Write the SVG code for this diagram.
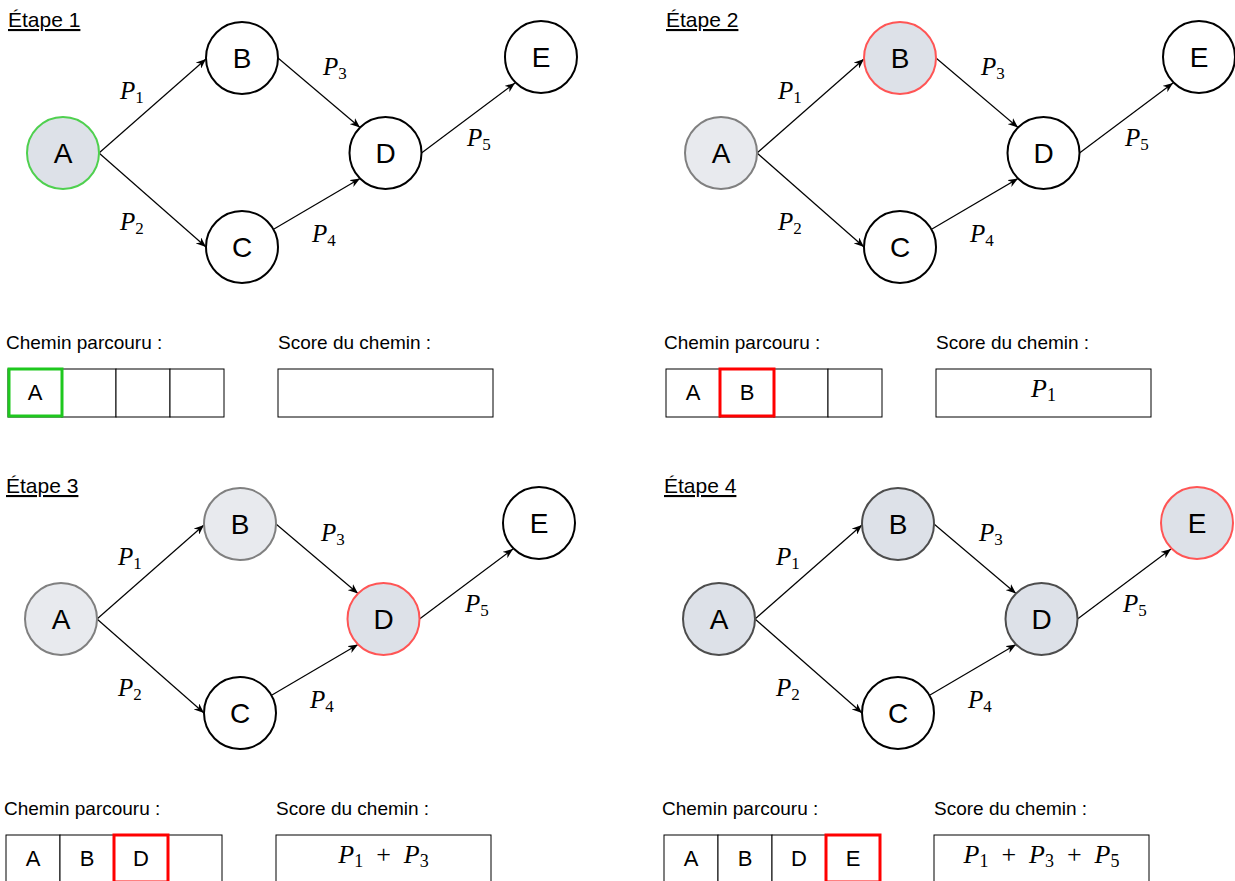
<svg xmlns="http://www.w3.org/2000/svg" width="1235" height="881" viewBox="0 0 1235 881">
<style>
.bg{fill:#ffffff}
.title{font-family:"Liberation Sans",Arial,sans-serif;font-size:21px;fill:#000;text-decoration:underline}
.lbl{font-family:"Liberation Sans",Arial,sans-serif;font-size:19px;fill:#000}
.node{stroke-width:2}
.plain{fill:#ffffff;stroke:#000}
.cur{fill:#dde1e8}
.vis{fill:#e8eaee;stroke:#808080}
.done{fill:#dde1e8;stroke:#4d4d4d}
.green{stroke:#4fd04f}
.red{stroke:#ff5555}
.nt{font-family:"Liberation Sans",Arial,sans-serif;font-size:28px;fill:#000;text-anchor:middle;dominant-baseline:central}
.edge{stroke:#000;stroke-width:1.2;fill:none;marker-end:url(#arr)}
.math{font-family:"Liberation Serif","Times New Roman",serif;font-size:25px;fill:#000}
.mi{font-style:italic}
.sub{font-size:17px;font-style:normal}
.cell{fill:#fff;stroke:#000;stroke-width:1}
.ct{font-family:"Liberation Sans",Arial,sans-serif;font-size:22px;fill:#000;text-anchor:middle}
.hlg{fill:none;stroke:#1ec81e;stroke-width:3}
.hlr{fill:none;stroke:#ff0000;stroke-width:3}
.score{font-family:"Liberation Serif","Times New Roman",serif;font-size:26px;fill:#000;text-anchor:middle}
.ssub{font-size:18px;font-style:normal}
</style>
<defs>
<marker id="arr" viewBox="0 0 10 8" refX="10" refY="4" markerWidth="10" markerHeight="8" markerUnits="userSpaceOnUse" orient="auto">
<path d="M0,0 L10,4 L0,8 L3,4 Z" fill="#000"/>
</marker>
</defs>
<rect class="bg" x="0" y="0" width="1235" height="881"/>

<!-- Panel 1 -->
<g id="panel1" transform="translate(0,0)">
<text class="title" x="8" y="27">Étape 1</text>
<g id="p1-edges">
<line class="edge" x1="99" y1="153" x2="206" y2="59"/>
<line class="edge" x1="99" y1="153" x2="206" y2="247"/>
<line class="edge" x1="278" y1="58" x2="360" y2="127.5"/>
<line class="edge" x1="274" y1="229" x2="360" y2="178.5"/>
<line class="edge" x1="421.5" y1="153" x2="515" y2="83"/>
<text class="math" x="120" y="99"><tspan class="mi">P</tspan><tspan class="sub" dy="4">1</tspan></text>
<text class="math" x="120" y="230"><tspan class="mi">P</tspan><tspan class="sub" dy="4">2</tspan></text>
<text class="math" x="323" y="75"><tspan class="mi">P</tspan><tspan class="sub" dy="4">3</tspan></text>
<text class="math" x="312" y="242"><tspan class="mi">P</tspan><tspan class="sub" dy="4">4</tspan></text>
<text class="math" x="467" y="146"><tspan class="mi">P</tspan><tspan class="sub" dy="4">5</tspan></text>
</g>
<g id="p1-A"><circle class="node cur green" cx="63" cy="153" r="36"/><text class="nt" x="63" y="153">A</text></g>
<g id="p1-B"><circle class="node plain" cx="242" cy="58" r="36"/><text class="nt" x="242" y="58">B</text></g>
<g id="p1-C"><circle class="node plain" cx="242" cy="247" r="36"/><text class="nt" x="242" y="247">C</text></g>
<g id="p1-D"><circle class="node plain" cx="385.5" cy="153" r="36"/><text class="nt" x="385.5" y="153">D</text></g>
<g id="p1-E"><circle class="node plain" cx="541" cy="57" r="36"/><text class="nt" x="541" y="57">E</text></g>
<g id="p1-table">
<text class="lbl" x="6" y="349">Chemin parcouru :</text>
<rect class="cell" x="8" y="369" width="54" height="48"/>
<rect class="cell" x="62" y="369" width="54" height="48"/>
<rect class="cell" x="116" y="369" width="54" height="48"/>
<rect class="cell" x="170" y="369" width="54" height="48"/>
<text class="ct" x="35" y="400">A</text>
<rect class="hlg" x="9" y="369" width="53" height="47"/>
<text class="lbl" x="278" y="349">Score du chemin :</text>
<rect class="cell" x="278" y="369" width="215" height="48"/>
</g>
</g>

<!-- Panel 2 -->
<g id="panel2" transform="translate(658,0)">
<text class="title" x="8" y="27">Étape 2</text>
<g id="p2-edges">
<line class="edge" x1="99" y1="153" x2="206" y2="59"/>
<line class="edge" x1="99" y1="153" x2="206" y2="247"/>
<line class="edge" x1="278" y1="58" x2="360" y2="127.5"/>
<line class="edge" x1="274" y1="229" x2="360" y2="178.5"/>
<line class="edge" x1="421.5" y1="153" x2="515" y2="83"/>
<text class="math" x="120" y="99"><tspan class="mi">P</tspan><tspan class="sub" dy="4">1</tspan></text>
<text class="math" x="120" y="230"><tspan class="mi">P</tspan><tspan class="sub" dy="4">2</tspan></text>
<text class="math" x="323" y="75"><tspan class="mi">P</tspan><tspan class="sub" dy="4">3</tspan></text>
<text class="math" x="312" y="242"><tspan class="mi">P</tspan><tspan class="sub" dy="4">4</tspan></text>
<text class="math" x="467" y="146"><tspan class="mi">P</tspan><tspan class="sub" dy="4">5</tspan></text>
</g>
<g id="p2-A"><circle class="node vis" cx="63" cy="153" r="36"/><text class="nt" x="63" y="153">A</text></g>
<g id="p2-B"><circle class="node cur red" cx="242" cy="58" r="36"/><text class="nt" x="242" y="58">B</text></g>
<g id="p2-C"><circle class="node plain" cx="242" cy="247" r="36"/><text class="nt" x="242" y="247">C</text></g>
<g id="p2-D"><circle class="node plain" cx="385.5" cy="153" r="36"/><text class="nt" x="385.5" y="153">D</text></g>
<g id="p2-E"><circle class="node plain" cx="541" cy="57" r="36"/><text class="nt" x="541" y="57">E</text></g>
<g id="p2-table">
<text class="lbl" x="6" y="349">Chemin parcouru :</text>
<rect class="cell" x="8" y="369" width="54" height="48"/>
<rect class="cell" x="62" y="369" width="54" height="48"/>
<rect class="cell" x="116" y="369" width="54" height="48"/>
<rect class="cell" x="170" y="369" width="54" height="48"/>
<text class="ct" x="35" y="400">A</text>
<text class="ct" x="89" y="400">B</text>
<rect class="hlr" x="62" y="369" width="54" height="47"/>
<text class="lbl" x="278" y="349">Score du chemin :</text>
<rect class="cell" x="278" y="369" width="215" height="48"/>
<text class="score" x="385.5" y="397"><tspan class="mi">P</tspan><tspan class="ssub" dy="4">1</tspan></text>
</g>
</g>

<!-- Panel 3 -->
<g id="panel3" transform="translate(-2,466)">
<text class="title" x="8" y="27">Étape 3</text>
<g id="p3-edges">
<line class="edge" x1="99" y1="153" x2="206" y2="59"/>
<line class="edge" x1="99" y1="153" x2="206" y2="247"/>
<line class="edge" x1="278" y1="58" x2="360" y2="127.5"/>
<line class="edge" x1="274" y1="229" x2="360" y2="178.5"/>
<line class="edge" x1="421.5" y1="153" x2="515" y2="83"/>
<text class="math" x="120" y="99"><tspan class="mi">P</tspan><tspan class="sub" dy="4">1</tspan></text>
<text class="math" x="120" y="230"><tspan class="mi">P</tspan><tspan class="sub" dy="4">2</tspan></text>
<text class="math" x="323" y="75"><tspan class="mi">P</tspan><tspan class="sub" dy="4">3</tspan></text>
<text class="math" x="312" y="242"><tspan class="mi">P</tspan><tspan class="sub" dy="4">4</tspan></text>
<text class="math" x="467" y="146"><tspan class="mi">P</tspan><tspan class="sub" dy="4">5</tspan></text>
</g>
<g id="p3-A"><circle class="node vis" cx="63" cy="153" r="36"/><text class="nt" x="63" y="153">A</text></g>
<g id="p3-B"><circle class="node vis" cx="242" cy="58" r="36"/><text class="nt" x="242" y="58">B</text></g>
<g id="p3-C"><circle class="node plain" cx="242" cy="247" r="36"/><text class="nt" x="242" y="247">C</text></g>
<g id="p3-D"><circle class="node cur red" cx="385.5" cy="153" r="36"/><text class="nt" x="385.5" y="153">D</text></g>
<g id="p3-E"><circle class="node plain" cx="541" cy="57" r="36"/><text class="nt" x="541" y="57">E</text></g>
<g id="p3-table">
<text class="lbl" x="6" y="349">Chemin parcouru :</text>
<rect class="cell" x="8" y="369" width="54" height="48"/>
<rect class="cell" x="62" y="369" width="54" height="48"/>
<rect class="cell" x="116" y="369" width="54" height="48"/>
<rect class="cell" x="170" y="369" width="54" height="48"/>
<text class="ct" x="35" y="400">A</text>
<text class="ct" x="89" y="400">B</text>
<text class="ct" x="143" y="400">D</text>
<rect class="hlr" x="116" y="369" width="54" height="47"/>
<text class="lbl" x="278" y="349">Score du chemin :</text>
<rect class="cell" x="278" y="369" width="215" height="48"/>
<text class="score" x="385.5" y="397"><tspan class="mi">P</tspan><tspan class="ssub" dy="4">1</tspan><tspan dy="-4" xml:space="preserve">  +  </tspan><tspan class="mi">P</tspan><tspan class="ssub" dy="4">3</tspan></text>
</g>
</g>

<!-- Panel 4 -->
<g id="panel4" transform="translate(656,466)">
<text class="title" x="8" y="27">Étape 4</text>
<g id="p4-edges">
<line class="edge" x1="99" y1="153" x2="206" y2="59"/>
<line class="edge" x1="99" y1="153" x2="206" y2="247"/>
<line class="edge" x1="278" y1="58" x2="360" y2="127.5"/>
<line class="edge" x1="274" y1="229" x2="360" y2="178.5"/>
<line class="edge" x1="421.5" y1="153" x2="515" y2="83"/>
<text class="math" x="120" y="99"><tspan class="mi">P</tspan><tspan class="sub" dy="4">1</tspan></text>
<text class="math" x="120" y="230"><tspan class="mi">P</tspan><tspan class="sub" dy="4">2</tspan></text>
<text class="math" x="323" y="75"><tspan class="mi">P</tspan><tspan class="sub" dy="4">3</tspan></text>
<text class="math" x="312" y="242"><tspan class="mi">P</tspan><tspan class="sub" dy="4">4</tspan></text>
<text class="math" x="467" y="146"><tspan class="mi">P</tspan><tspan class="sub" dy="4">5</tspan></text>
</g>
<g id="p4-A"><circle class="node done" cx="63" cy="153" r="36"/><text class="nt" x="63" y="153">A</text></g>
<g id="p4-B"><circle class="node done" cx="242" cy="58" r="36"/><text class="nt" x="242" y="58">B</text></g>
<g id="p4-C"><circle class="node plain" cx="242" cy="247" r="36"/><text class="nt" x="242" y="247">C</text></g>
<g id="p4-D"><circle class="node done" cx="385.5" cy="153" r="36"/><text class="nt" x="385.5" y="153">D</text></g>
<g id="p4-E"><circle class="node cur red" cx="541" cy="57" r="36"/><text class="nt" x="541" y="57">E</text></g>
<g id="p4-table">
<text class="lbl" x="6" y="349">Chemin parcouru :</text>
<rect class="cell" x="8" y="369" width="54" height="48"/>
<rect class="cell" x="62" y="369" width="54" height="48"/>
<rect class="cell" x="116" y="369" width="54" height="48"/>
<rect class="cell" x="170" y="369" width="54" height="48"/>
<text class="ct" x="35" y="400">A</text>
<text class="ct" x="89" y="400">B</text>
<text class="ct" x="143" y="400">D</text>
<text class="ct" x="197" y="400">E</text>
<rect class="hlr" x="170" y="369" width="54" height="47"/>
<text class="lbl" x="278" y="349">Score du chemin :</text>
<rect class="cell" x="278" y="369" width="215" height="48"/>
<text class="score" x="385.5" y="397"><tspan class="mi">P</tspan><tspan class="ssub" dy="4">1</tspan><tspan dy="-4" xml:space="preserve">  +  </tspan><tspan class="mi">P</tspan><tspan class="ssub" dy="4">3</tspan><tspan dy="-4" xml:space="preserve">  +  </tspan><tspan class="mi">P</tspan><tspan class="ssub" dy="4">5</tspan></text>
</g>
</g>
</svg>
